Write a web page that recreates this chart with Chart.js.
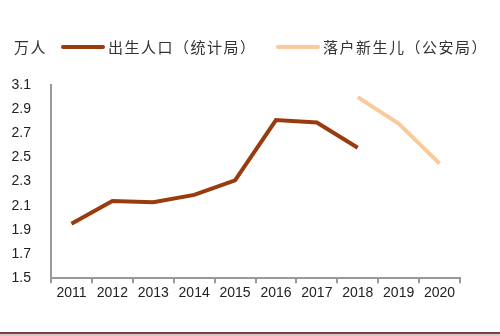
<!DOCTYPE html>
<html>
<head>
<meta charset="utf-8">
<script src="https://cdn.jsdelivr.net/npm/chart.js@4"></script>
<style>
  html, body { margin: 0; padding: 0; background: #fff; }
  #wrap { width: 500px; height: 332px; position: relative; border-bottom: 2px solid #7b3f47; }
  #foot { width: 500px; height: 2px; background: #d9c4c6; }
</style>
</head>
<body>
<div id="wrap"><canvas id="chart"></canvas></div>
<div id="foot"></div>
<script>
const years = ['2011', '2012', '2013', '2014', '2015', '2016', '2017', '2018', '2019', '2020'];
const births = [1.95, 2.14, 2.13, 2.19, 2.31, 2.81, 2.79, 2.58, null, null];
const registered = [null, null, null, null, null, null, null, 3.00, 2.78, 2.45];
const unitLabel = '万人';

const axisGray = '#999999';
const fontCJK = '"Noto Sans CJK SC", "Noto Sans", sans-serif';

// legend row: unit text + one line swatch per dataset
const legendPlugin = {
    id: 'topLegend',
    afterDraw(chart) {
        const ctx = chart.ctx;
        const y = 47;
        const slots = [63, 278];
        ctx.save();
        ctx.font = '15px ' + fontCJK;
        ctx.textBaseline = 'middle';
        ctx.fillStyle = '#333';
        ctx.letterSpacing = '1.5px';
        ctx.fillText(unitLabel, 14, y);
        chart.data.datasets.forEach((ds, i) => {
            const x = slots[i];
            ctx.strokeStyle = ds.borderColor;
            ctx.lineWidth = 4;
            ctx.lineCap = 'round';
            ctx.beginPath();
            ctx.moveTo(x, y);
            ctx.lineTo(x + 40, y);
            ctx.stroke();
            ctx.fillStyle = '#333';
            ctx.fillText(ds.label, x + 45, y);
        });
        ctx.restore();
    }
};

const data = {
    labels: years,
    datasets: [{
            label: '出生人口（统计局）',
            data: births,
            borderColor: '#9a3b0f',
            backgroundColor: '#9a3b0f',
            borderWidth: 4,
            pointRadius: 0,
            tension: 0,
        },
        {
            label: '落户新生儿（公安局）',
            data: registered,
            borderColor: '#f9cb9c',
            backgroundColor: '#f9cb9c',
            borderWidth: 4,
            pointRadius: 0,
            tension: 0,
        },
    ]
};

const config = {
    type: 'line',
    data: data,
    plugins: [legendPlugin],
    options: {
        responsive: true,
        maintainAspectRatio: false,
        animation: false,
        layout: { padding: { top: 85, left: 6, right: 40, bottom: 28 } },
        plugins: {
            legend: { display: false },
            tooltip: { enabled: false },
        },
        scales: {
            x: {
                offset: true,
                grid: { offset: true, drawOnChartArea: false, drawTicks: true, tickLength: 5, color: axisGray, lineWidth: 2 },
                border: { color: axisGray, width: 2 },
                ticks: { color: '#222', padding: 2, maxRotation: 0, font: { size: 14, family: '"Liberation Sans", sans-serif' } },
            },
            y: {
                min: 1.5,
                max: 3.1,
                afterFit(scale) { scale.width = 45; },
                grid: { display: false, drawTicks: false },
                border: { color: axisGray, width: 2 },
                ticks: {
                    stepSize: 0.2,
                    padding: 20,
                    color: '#222',
                    font: { size: 14, family: '"Liberation Sans", sans-serif' },
                    callback: v => v.toFixed(1),
                },
            }
        }
    }
};

const chart = new Chart(document.getElementById('chart'), config);
</script>
</body>
</html>
